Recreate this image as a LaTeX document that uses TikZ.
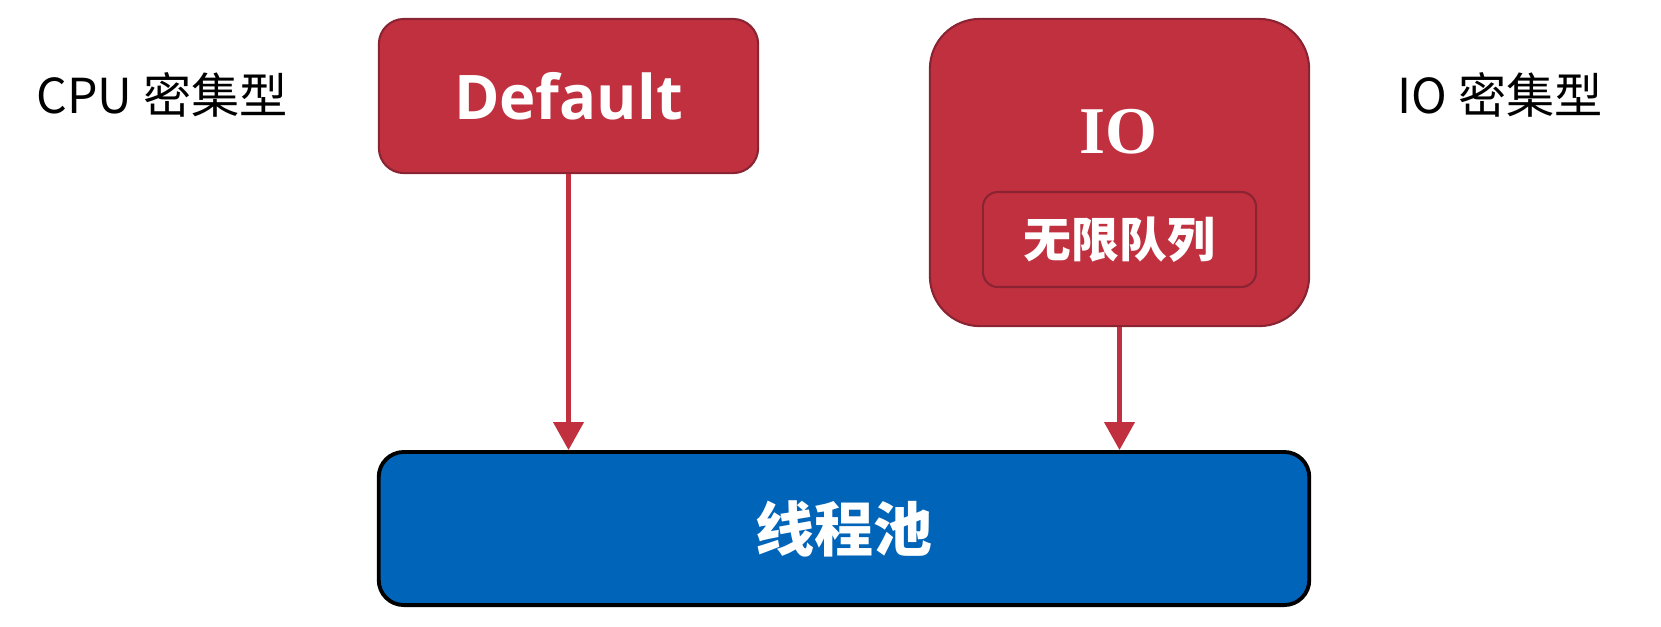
\documentclass[tikz,border=0pt]{standalone}
\usepackage{fontspec}
\usepackage{tikz}
\usetikzlibrary{arrows.meta}
\newfontfamily\cjkfont{Noto Sans CJK SC}
\newfontfamily\uifont{Open Sans}
\newfontfamily\seriffont{Liberation Serif}
\definecolor{boxred}{HTML}{C1303F}
\definecolor{edgered}{HTML}{8A2433}
\definecolor{poolblue}{HTML}{0064B8}
\tikzset{
	redbox/.style={
		draw=edgered,
		fill=boxred,
		line width=.6pt,
		inner sep=0,
		text=white,
	},
	poolbox/.style={
		draw=black,
		fill=poolblue,
		line width=1.1pt,
		rounded corners=.25cm,
		inner sep=0,
		text=white,
	},
	sidelabel/.style={
		inner sep=0,
		font=\cjkfont\fontsize{13.7}{15}\selectfont,
	},
	flow/.style={
		draw=boxred,
		line width=1.2pt,
		-{Triangle[width=3mm,length=2.8mm]},
	}
}
\begin{document}
\begin{tikzpicture}[x=0.01cm,y=-0.01cm]
	\useasboundingbox (0,0) rectangle (1661,626);

	\node[sidelabel] (cpu) at (162,95) {CPU 密集型};
	\node[sidelabel] (iolabel) at (1500,95) {IO 密集型};

	\node[redbox,rounded corners=.25cm,minimum width=3.79cm,minimum height=1.54cm,
		font=\uifont\bfseries\fontsize{17.5}{20}\selectfont] (default) at (568.5,96) {Default};
	\node[redbox,rounded corners=.5cm,minimum width=3.79cm,minimum height=3.07cm] (io) at (1119.5,172.5) {};
	\node[text=white,inner sep=0,font=\seriffont\bfseries\fontsize{19}{20}\selectfont] (iotext) at (1118,132) {IO};
	\node[redbox,rounded corners=.15cm,minimum width=2.73cm,minimum height=.95cm,
		font=\cjkfont\bfseries\fontsize{13.6}{15}\selectfont] (queue) at (1119.5,239.5) {无限队列};

	\node[poolbox,minimum width=9.3cm,minimum height=1.53cm,
		font=\cjkfont\bfseries\fontsize{16.8}{18}\selectfont] (pool) at (844,528.5) {线程池};

	\draw[flow] (default.south) -- (default.south |- pool.north);
	\draw[flow] (io.south) -- (io.south |- pool.north);

\end{tikzpicture}
\end{document}
